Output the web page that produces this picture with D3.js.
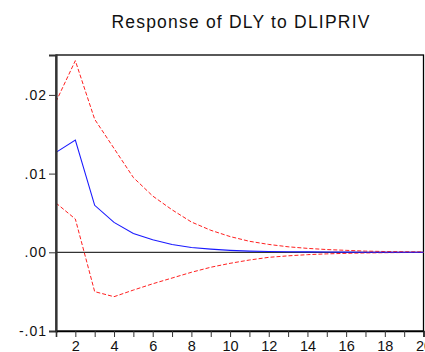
<!DOCTYPE html>
<html><head><meta charset="utf-8">
<script src="https://cdn.jsdelivr.net/npm/d3@7"></script>
<style>body{margin:0;background:#fff}svg{display:block}</style>
</head><body>
<script>
const periods = d3.range(1, 21);
const response = [0.0127,0.01427,0.00597,0.0038,0.0024,0.0016,0.0010,0.0006,0.0004,0.00025,0.00015,0.0001,0.00007,0.00005,0.00003,0.00002,0.00001,0.00001,0.000005,0.000003];
const upperBand = [0.01914,0.02435,0.0169,0.0132,0.0095,0.00715,0.0054,0.00385,0.0028,0.0020,0.0014,0.0010,0.0007,0.0005,0.00035,0.00025,0.00015,0.0001,0.00007,0.00005];
const lowerBand = [0.00626,0.00423,-0.0050,-0.00564,-0.0048,-0.0040,-0.00327,-0.00254,-0.0019,-0.0014,-0.00098,-0.00064,-0.00045,-0.0003,-0.0002,-0.00013,-0.00008,-0.00005,-0.00003,-0.00002];
const yTicks = [-0.01, 0.00, 0.01, 0.02];
const yTickLabels = ["-.01", ".00", ".01", ".02"];
const xTickLabels = [2,4,6,8,10,12,14,16,18,20];
const title = "Response of DLY to DLIPRIV";

const W = 425, H = 352;
const m = {left: 56, right: 1.5, top: 55, bottom: 21};
const svg = d3.select("body").append("svg").attr("width", W).attr("height", H);
const x = d3.scaleLinear().domain([1, 20]).range([m.left, W - m.right]);
const y = d3.scaleLinear().domain([-0.01, 0.02507]).range([H - m.bottom, m.top]);
const FONT = "Liberation Sans, Arial, sans-serif";

svg.append("text").attr("x", 241).attr("y", 28).attr("text-anchor", "middle")
  .attr("font-family", FONT).attr("font-size", 17.5).attr("letter-spacing", 1.2)
  .attr("fill", "#111").text(title);

// frame
svg.append("rect").attr("x", m.left).attr("y", m.top)
  .attr("width", x(20) - m.left).attr("height", y(-0.01) - m.top)
  .attr("fill", "none").attr("stroke", "#000").attr("stroke-width", 1.3);

// zero line
svg.append("line").attr("x1", x(1)).attr("x2", x(20)).attr("y1", y(0)).attr("y2", y(0))
  .attr("stroke", "#000").attr("stroke-width", 1);

const line = d3.line().x((d, i) => x(periods[i])).y(d => y(d));
svg.append("path").datum(upperBand).attr("d", line).attr("fill", "none")
  .attr("stroke", "#ff2020").attr("stroke-width", 1).attr("stroke-dasharray", "4,2");
svg.append("path").datum(lowerBand).attr("d", line).attr("fill", "none")
  .attr("stroke", "#ff2020").attr("stroke-width", 1).attr("stroke-dasharray", "4,2");
svg.append("path").datum(response).attr("d", line).attr("fill", "none")
  .attr("stroke", "#1a1aff").attr("stroke-width", 1.1);

// y axis
const yAxis = d3.axisLeft(y).tickValues(yTicks).tickFormat((d, i) => yTickLabels[i]).tickSize(7).tickPadding(2);
const gy = svg.append("g").attr("transform", `translate(${m.left},0)`).call(yAxis);
gy.select(".domain").attr("stroke", "#333").attr("stroke-width", 2.2);
gy.selectAll(".tick line").attr("stroke", "#333");
gy.selectAll("text").attr("font-family", FONT).attr("font-size", 14).attr("letter-spacing", 1).attr("fill", "#111");

// x axis
const xAxis = d3.axisBottom(x).tickValues(periods).tickFormat(d => xTickLabels.includes(d) ? String(d) : "").tickSize(6).tickPadding(4);
const gx = svg.append("g").attr("transform", `translate(0,${y(-0.01)})`).call(xAxis);
gx.select(".domain").attr("stroke", "#000").attr("stroke-width", 1.5);
gx.selectAll(".tick line").attr("stroke", "#333");
gx.selectAll("text").attr("font-family", FONT).attr("font-size", 14.5).attr("fill", "#111");
</script>
</body></html>
